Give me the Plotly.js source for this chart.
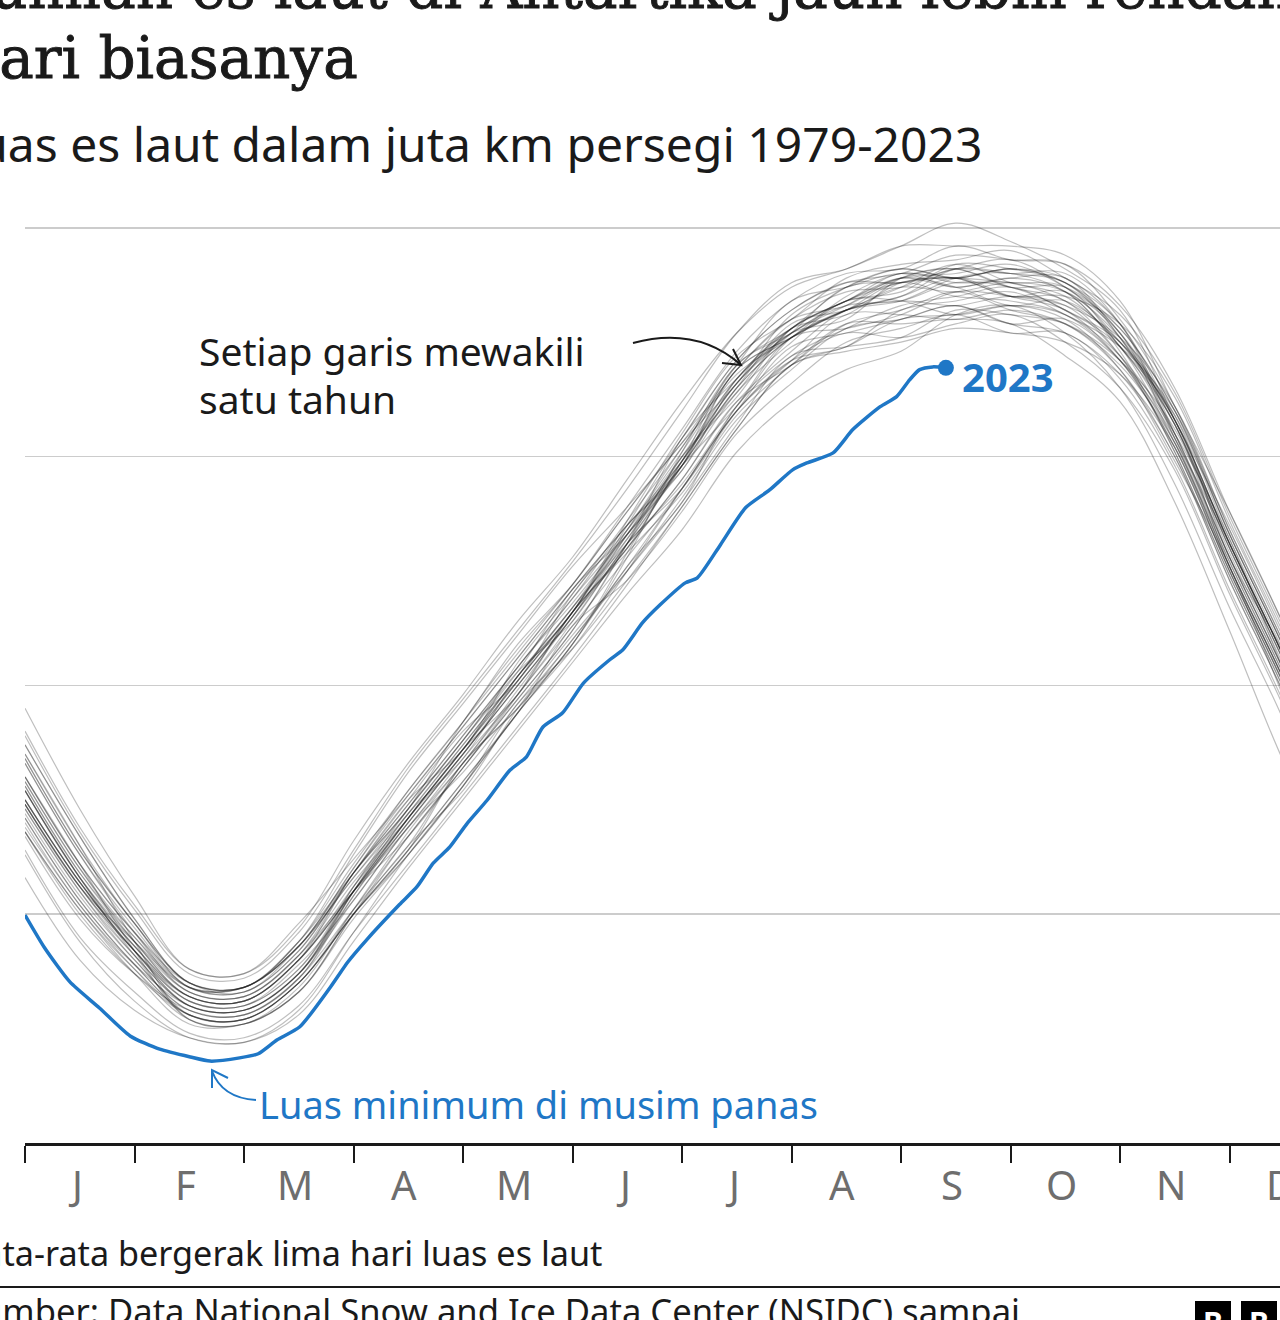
<!DOCTYPE html>
<html><head><meta charset="utf-8">
<script src="https://cdn.plot.ly/plotly-3.0.1.min.js"></script>
<style>
html,body{margin:0;padding:0;background:#fff;overflow:hidden;width:1280px;height:1320px}
#chart{position:absolute;left:0;top:0;width:1400px;height:1320px}
g.annotation[data-index="0"] text, g.annotation[data-index="1"] text{stroke:#1a1a1a;stroke-width:0.9px}
</style>
</head><body><div id="chart"></div>
<script>
// ---- data (million km², x in months from 1 Jan; 0.5 = mid month) ----
const MONTH_LABELS = ['J','F','M','A','M','J','J','A','S','O','N','D'];
const MONTH_TICKS = [0,1,2,3,4,5,6,7,8,9,10,11,12];
const X_HALF_MONTH = [0,0.5,1,1.5,2,2.5,3,3.5,4,4.5,5,5.5,6,6.5,7,7.5,8,8.5,9,9.5,10,10.5,11,11.5,12];

const Y1979 = [7.9,6.0,4.5,3.3,3.2,4.1,5.7,7.1,8.5,10.1,11.6,13.3,14.9,16.7,17.7,18.3,18.9,18.7,18.3,18.4,17.5,15.8,13.1,10.6,7.8];
const Y1980 = [8.7,6.7,4.9,3.5,3.4,4.4,6.1,7.7,9.2,10.9,12.2,13.8,15.3,16.6,18.1,18.7,19.1,18.9,19.1,18.8,17.8,16.0,13.3,10.8,8.0];
const Y1981 = [7.5,5.7,4.2,3.0,2.9,3.7,5.3,6.9,8.3,9.9,11.5,13.2,15.0,16.7,17.8,18.1,18.8,18.9,18.8,18.7,17.4,15.7,12.6,10.1,7.3];
const Y1982 = [8.0,6.1,4.6,3.5,3.4,4.3,5.8,7.2,8.7,10.2,11.7,13.1,14.4,16.1,17.6,17.8,18.1,18.6,18.5,18.3,17.6,16.1,13.4,10.9,8.2];
const Y1983 = [8.3,6.3,4.7,3.4,3.3,4.2,5.9,7.4,8.9,10.4,11.9,13.5,14.7,16.7,17.8,18.4,18.9,18.7,18.9,18.9,17.6,15.7,13.0,10.5,7.7];
const Y1984 = [7.3,5.5,4.0,2.9,2.8,3.6,5.1,6.5,8.3,9.5,11.0,12.5,14.1,15.8,16.9,17.8,18.0,18.3,17.9,18.0,17.1,15.4,12.7,10.2,7.4];
const Y1985 = [7.7,5.8,4.3,3.2,3.1,4.0,5.5,6.9,8.4,9.8,11.4,13.1,14.8,16.5,17.6,18.2,18.4,18.9,19.0,18.6,17.4,15.9,13.2,10.7,7.9];
const Y1986 = [7.8,5.9,4.5,3.4,3.4,4.3,5.8,7.3,8.8,10.3,11.4,13.1,14.3,16.0,17.4,17.7,18.0,18.3,17.9,17.7,16.8,15.0,12.3,9.8,7.0];
const Y1987 = [6.8,5.1,3.8,2.8,2.7,3.5,5.1,6.7,8.2,9.7,11.2,13.1,15.0,16.4,17.8,18.4,19.0,18.8,18.8,18.4,17.5,15.8,13.1,10.6,7.8];
const Y1988 = [7.5,5.7,4.2,3.0,2.9,3.7,5.4,7.0,8.5,10.0,11.5,13.0,14.5,16.2,17.3,18.2,18.4,18.3,18.5,18.3,17.2,15.3,12.6,10.1,7.3];
const Y1989 = [7.1,5.3,3.9,2.8,2.7,3.5,5.0,6.4,7.9,9.4,10.9,12.6,14.0,16.1,17.2,17.8,18.3,18.5,18.7,18.2,17.5,15.9,12.8,10.7,7.9];
const Y1990 = [7.7,5.8,4.3,3.1,3.0,3.9,5.3,6.9,8.1,9.6,11.1,12.5,14.0,15.7,17.2,17.4,17.6,18.2,18.1,17.9,17.1,15.6,12.9,10.4,7.6];
const Y1991 = [7.9,6.0,4.4,3.2,3.1,4.0,5.5,7.0,8.5,10.0,11.5,13.1,14.8,16.9,17.6,18.2,18.5,18.9,18.5,18.2,17.1,15.2,12.5,10.0,7.2];
const Y1992 = [6.9,5.2,3.8,2.7,2.6,3.4,5.1,6.8,8.3,9.8,11.3,12.8,14.3,16.0,17.1,17.4,18.2,18.4,18.6,18.1,17.4,16.0,13.3,10.8,8.0];
const Y1993 = [8.0,6.1,4.6,3.4,3.3,4.2,5.9,7.5,9.0,10.1,12.0,13.4,14.9,16.6,17.7,18.3,18.4,18.8,18.7,18.2,17.4,15.5,12.8,10.3,7.5];
const Y1994 = [7.4,5.6,4.2,3.1,3.0,3.8,5.6,7.2,8.7,10.2,11.7,13.4,15.1,16.8,17.6,18.5,19.0,18.9,19.1,18.9,17.9,15.8,13.5,11.0,8.3];
const Y1995 = [8.4,6.4,4.8,3.4,3.4,4.3,6.0,7.6,9.1,10.6,12.1,13.5,14.8,16.9,17.6,18.2,18.5,19.1,19.0,18.8,17.7,15.7,13.0,10.5,7.7];
const Y1996 = [7.7,5.8,4.4,3.3,3.2,4.1,5.9,7.5,8.6,10.5,12.0,13.6,15.2,16.9,18.0,18.3,18.9,19.1,18.7,18.4,17.2,15.1,12.4,9.9,7.1];
const Y1997 = [6.8,5.1,3.7,2.6,2.6,3.3,5.0,6.7,8.2,9.7,11.2,13.1,15.4,16.7,17.8,18.4,18.8,18.9,18.5,18.6,17.5,15.7,13.0,10.5,7.7];
const Y1998 = [7.5,5.7,4.2,3.1,3.0,3.8,5.5,7.1,8.6,10.1,11.6,13.4,15.2,16.9,18.0,18.6,18.7,19.1,19.0,19.0,17.9,15.4,12.7,10.2,7.4];
const Y1999 = [7.3,5.5,4.1,3.0,2.9,3.7,5.6,7.3,8.8,10.3,12.1,13.3,14.8,16.5,17.9,18.2,18.7,18.6,18.8,18.6,17.6,15.8,13.1,10.6,7.8];
const Y2000 = [7.8,5.9,4.4,3.2,3.1,4.0,5.5,7.0,8.5,10.0,11.5,13.3,15.0,16.3,17.8,18.4,18.9,19.0,19.2,18.7,17.8,16.0,13.3,10.8,8.0];
const Y2001 = [8.5,6.5,4.8,3.5,3.3,4.3,5.9,7.4,8.9,10.4,11.9,13.3,14.7,16.4,17.5,18.4,18.4,18.1,18.3,18.1,17.2,15.5,13.2,10.3,7.5];
const Y2002 = [7.7,5.8,4.1,2.8,2.7,3.5,5.0,6.3,7.8,9.6,10.8,12.3,13.9,15.6,17.0,17.3,17.5,17.8,17.7,17.5,16.8,15.2,12.5,10.0,7.2];
const Y2003 = [7.4,5.6,4.4,3.4,3.4,4.3,6.0,7.7,9.2,10.7,12.2,13.8,15.4,17.1,18.2,18.8,18.8,19.1,19.3,18.7,17.7,15.8,13.1,10.6,7.8];
const Y2004 = [8.4,6.4,4.8,3.5,3.4,4.4,5.9,7.3,8.8,10.4,11.8,13.3,14.8,16.1,17.6,18.2,18.7,19.2,18.8,18.5,17.4,15.3,12.6,10.1,7.3];
const Y2005 = [7.1,5.3,3.9,2.8,2.7,3.5,5.0,6.4,8.3,9.5,10.9,12.9,14.9,16.6,17.7,18.0,18.9,19.1,18.7,18.7,17.7,15.4,13.1,10.6,7.8];
const Y2006 = [8.0,6.1,4.2,2.7,2.6,3.3,4.9,6.3,7.8,9.4,10.9,12.8,15.1,17.0,17.8,18.7,19.1,18.9,19.1,18.8,17.6,15.5,12.8,10.3,7.5];
const Y2007 = [7.4,5.6,4.1,3.0,2.9,3.7,5.5,7.1,8.6,10.2,11.6,13.5,15.4,17.1,18.2,18.8,19.0,19.4,19.3,19.2,18.0,16.1,13.4,10.9,8.2];
const Y2008 = [9.0,6.9,5.2,3.8,3.7,4.8,6.2,7.6,9.1,10.6,12.1,13.5,14.9,16.6,17.7,18.7,18.8,18.9,18.5,18.5,17.9,16.3,13.6,11.1,8.4];
const Y2009 = [8.3,6.3,4.6,3.3,3.2,4.1,5.5,6.7,8.2,9.8,11.6,13.0,14.9,17.0,17.7,18.4,18.6,19.2,19.1,18.8,17.9,15.5,12.8,10.3,7.5];
const Y2010 = [7.2,5.4,4.0,2.9,2.8,3.6,5.4,7.1,8.6,10.2,11.6,13.6,15.5,17.2,18.0,18.9,19.2,19.3,19.5,18.9,18.1,16.4,13.7,11.2,8.5];
const Y2011 = [8.5,6.5,4.4,2.7,2.6,3.3,5.0,6.5,7.7,9.5,11.0,12.6,14.3,16.0,17.1,18.1,18.1,18.0,18.2,17.9,17.0,15.3,12.6,10.1,7.3];
const Y2012 = [7.5,5.7,4.3,3.2,3.1,4.0,5.9,7.3,9.2,10.8,12.2,13.9,15.6,17.3,18.4,19.0,19.1,19.6,19.3,19.2,18.3,16.5,13.8,11.3,8.6];
const Y2013 = [8.9,6.8,5.1,3.7,3.6,4.6,6.4,8.2,9.7,11.2,12.7,14.3,16.0,17.7,18.8,19.1,19.6,19.6,19.6,19.4,18.4,16.1,13.8,11.3,8.6];
const Y2014 = [9.5,7.3,5.4,3.8,3.7,4.7,6.6,8.3,9.8,11.4,12.8,14.5,16.2,17.7,18.7,19.1,19.6,20.1,19.7,19.1,18.2,15.8,13.1,10.6,7.8];
const Y2015 = [8.7,6.7,4.9,3.5,3.4,4.4,6.3,8.1,9.6,11.1,12.6,13.9,15.3,17.0,18.4,18.7,19.0,18.7,18.9,18.6,17.3,15.1,12.4,9.9,7.1];
const Y2016 = [7.4,5.6,4.2,3.2,3.1,4.0,5.6,7.1,8.6,9.8,11.6,12.9,14.2,15.9,17.0,17.9,17.9,18.0,17.9,17.2,16.2,14.0,11.2,8.3,5.9];
const Y2017 = [5.8,4.0,2.9,2.3,2.2,2.9,4.6,6.3,7.8,9.4,10.8,12.5,14.3,16.0,17.1,17.7,17.6,17.9,18.1,17.5,16.5,14.7,12.0,9.5,6.6];
const Y2018 = [6.4,4.5,3.3,2.4,2.3,3.0,4.6,6.1,7.6,9.1,10.6,12.2,13.9,15.6,17.0,17.4,18.0,18.1,18.3,18.0,16.9,14.9,12.6,9.7,6.8];
const Y2019 = [6.8,5.0,3.7,2.8,2.7,3.5,5.0,6.4,7.9,9.4,11.3,12.3,13.8,15.5,16.6,17.5,17.8,18.1,17.7,17.7,16.7,14.8,12.1,9.6,6.7];
const Y2020 = [6.7,4.9,3.7,2.9,2.8,3.6,5.5,7.2,8.4,10.2,11.7,13.2,14.8,16.5,17.6,18.2,18.8,18.5,18.4,18.1,17.1,15.2,12.5,10.0,7.2];
const Y2021 = [7.0,5.2,3.9,3.0,2.9,3.7,5.5,7.1,8.6,10.1,11.6,13.0,14.5,16.2,17.0,17.9,18.2,18.6,18.2,17.9,16.9,15.0,12.3,9.8,7.0];
const Y2022 = [6.3,4.4,3.1,2.3,2.2,2.8,4.4,6.0,7.5,9.0,10.5,12.0,13.4,15.1,16.2,16.9,17.3,18.1,18.3,17.7,16.5,14.4,11.7,9.2,6.0];

const X_2023 = [0,0.18,0.41,0.68,0.96,1.23,1.51,1.69,1.96,2.13,2.30,2.51,2.79,2.95,3.12,3.42,3.58,3.73,3.88,4.04,4.22,4.43,4.58,4.73,4.91,5.10,5.34,5.46,5.64,5.80,6.03,6.14,6.35,6.58,6.80,7.01,7.14,7.38,7.56,7.81,7.96,8.08,8.17,8.29,8.41];
const Y_2023 = [4.98,4.26,3.52,2.95,2.34,2.05,1.88,1.79,1.86,1.95,2.25,2.54,3.41,3.96,4.44,5.21,5.60,6.12,6.47,6.99,7.49,8.15,8.44,9.09,9.40,10.05,10.56,10.78,11.37,11.76,12.24,12.35,13.07,13.88,14.27,14.71,14.86,15.08,15.59,16.09,16.31,16.68,16.90,16.96,16.94];

const PAST_YEARS = [Y1979,Y1980,Y1981,Y1982,Y1983,Y1984,Y1985,Y1986,Y1987,Y1988,Y1989,Y1990,Y1991,Y1992,Y1993,Y1994,Y1995,Y1996,Y1997,Y1998,Y1999,Y2000,Y2001,Y2002,Y2003,Y2004,Y2005,Y2006,Y2007,Y2008,Y2009,Y2010,Y2011,Y2012,Y2013,Y2014,Y2015,Y2016,Y2017,Y2018,Y2019,Y2020,Y2021,Y2022];

// ---- styling ----
const BLUE = '#1f77c6';
const INK = '#1a1a1a';
const SANS = 'Noto Sans, Open Sans, sans-serif';
const SERIF = 'DejaVu Serif, Liberation Serif, serif';

// pixel helpers for text/decoration placement (plot area 25..1339 x, 182..1143 y)
const L = 25, W = 1314, B = 1143, H = 961;
const px = p => (p - L) / W;
const py = p => (B - p) / H;

const traces = PAST_YEARS.map(ys => ({
  type: 'scatter', mode: 'lines', x: X_HALF_MONTH, y: ys,
  line: {color: 'rgba(20,20,20,0.27)', width: 1.2, shape: 'spline', smoothing: 1},
  hoverinfo: 'skip', showlegend: false
}));
traces.push({
  type: 'scatter', mode: 'lines', x: X_2023, y: Y_2023,
  line: {color: BLUE, width: 3.5, shape: 'spline', smoothing: 0.6},
  hoverinfo: 'skip', showlegend: false
});
traces.push({
  type: 'scatter', mode: 'markers',
  x: [X_2023[X_2023.length - 1]], y: [Y_2023[Y_2023.length - 1]],
  marker: {color: BLUE, size: 16},
  hoverinfo: 'skip', showlegend: false
});

function txt(text, xp, yc, size, opts) {
  return Object.assign({
    text: text, xref: 'paper', yref: 'paper', x: px(xp), y: py(yc),
    xanchor: 'left', yanchor: 'middle', showarrow: false,
    font: {family: SANS, size: size, color: INK}
  }, opts || {});
}

const annotations = [
  txt('Jumlah es laut di Antartika jauh lebih rendah', -40, -12, 58, {font: {family: SERIF, size: 58, color: INK}}),
  txt('dari biasanya', -40, 57.5, 58, {font: {family: SERIF, size: 58, color: INK}}),
  txt('Luas es laut dalam juta km persegi 1979-2023', -49, 143.4, 48),
  txt('Setiap garis mewakili', 197, 350.6, 39),
  txt('satu tahun', 197, 398.6, 39),
  txt('<b>2023</b>', 960, 376.5, 40, {font: {family: SANS, size: 40, color: BLUE, weight: 700}}),
  txt('Luas minimum di musim panas', 257, 1104.3, 38, {font: {family: SANS, size: 38, color: BLUE}}),
  txt('Rata-rata bergerak lima hari luas es laut', -40, 1252.8, 34.2),
  txt('Sumber: Data National Snow and Ice Data Center (NSIDC) sampai', -40, 1310.8, 34.6)
];
MONTH_LABELS.forEach((m, i) => {
  annotations.push({
    text: m, xref: 'x', yref: 'paper', x: MONTH_TICKS[i] + 0.5, y: py(1184.5),
    xanchor: 'center', yanchor: 'middle', showarrow: false, xshift: -4,
    font: {family: SANS, size: 40, color: '#6e6e6e'}
  });
});
// BBC blocks letters
[1213, 1259, 1305].forEach(cx => {
  annotations.push({
    text: '<b>B</b>', xref: 'paper', yref: 'paper', x: px(cx), y: py(1322),
    xanchor: 'center', yanchor: 'middle', showarrow: false,
    font: {family: SANS, size: 30, color: '#fff'}
  });
});

const shapes = [
  // arrow 1 (to the grey lines)
  {type: 'path', xref: 'paper', yref: 'paper', layer: 'above',
   path: `M ${px(633)} ${py(343)} Q ${px(697)} ${py(326)} ${px(741)} ${py(365)}`,
   line: {color: INK, width: 2}},
  {type: 'path', xref: 'paper', yref: 'paper', layer: 'above',
   path: `M ${px(733)} ${py(349)} L ${px(741)} ${py(365)} L ${px(722)} ${py(363)}`,
   line: {color: INK, width: 2}},
  // arrow 2 (to summer minimum)
  {type: 'path', xref: 'paper', yref: 'paper', layer: 'above',
   path: `M ${px(256)} ${py(1100)} Q ${px(222)} ${py(1098)} ${px(212)} ${py(1071)}`,
   line: {color: BLUE, width: 2}},
  {type: 'path', xref: 'paper', yref: 'paper', layer: 'above',
   path: `M ${px(212)} ${py(1088)} L ${px(212)} ${py(1070)} L ${px(228)} ${py(1078)}`,
   line: {color: BLUE, width: 2}},
  // footer separator
  {type: 'line', xref: 'paper', yref: 'paper', x0: px(-10), x1: px(1400), y0: py(1287), y1: py(1287),
   line: {color: INK, width: 2}},
  // BBC blocks
  {type: 'rect', xref: 'paper', yref: 'paper', x0: px(1195), x1: px(1231), y0: py(1301), y1: py(1340), fillcolor: '#000', line: {width: 0}},
  {type: 'rect', xref: 'paper', yref: 'paper', x0: px(1241), x1: px(1277), y0: py(1301), y1: py(1340), fillcolor: '#000', line: {width: 0}},
  {type: 'rect', xref: 'paper', yref: 'paper', x0: px(1287), x1: px(1323), y0: py(1301), y1: py(1340), fillcolor: '#000', line: {width: 0}}
];

const layout = {
  width: 1400, height: 1320,
  margin: {l: 25, r: 61, t: 182, b: 177, pad: 0},
  paper_bgcolor: '#fff', plot_bgcolor: '#fff',
  showlegend: false,
  xaxis: {
    range: [0, 12], showgrid: false, zeroline: false,
    showline: true, linecolor: INK, linewidth: 3,
    ticks: 'outside', tickvals: MONTH_TICKS, ticklen: 17, tickwidth: 2, tickcolor: INK,
    showticklabels: false, fixedrange: true
  },
  yaxis: {
    range: [0, 21], showgrid: true, gridcolor: '#cccccc', gridwidth: 1.5,
    tickvals: [5, 10, 15, 20], showticklabels: false, zeroline: false,
    showline: false, ticks: '', fixedrange: true
  },
  annotations: annotations,
  shapes: shapes
};

Plotly.newPlot('chart', traces, layout, {staticPlot: true, displayModeBar: false});
</script>
</body></html>
